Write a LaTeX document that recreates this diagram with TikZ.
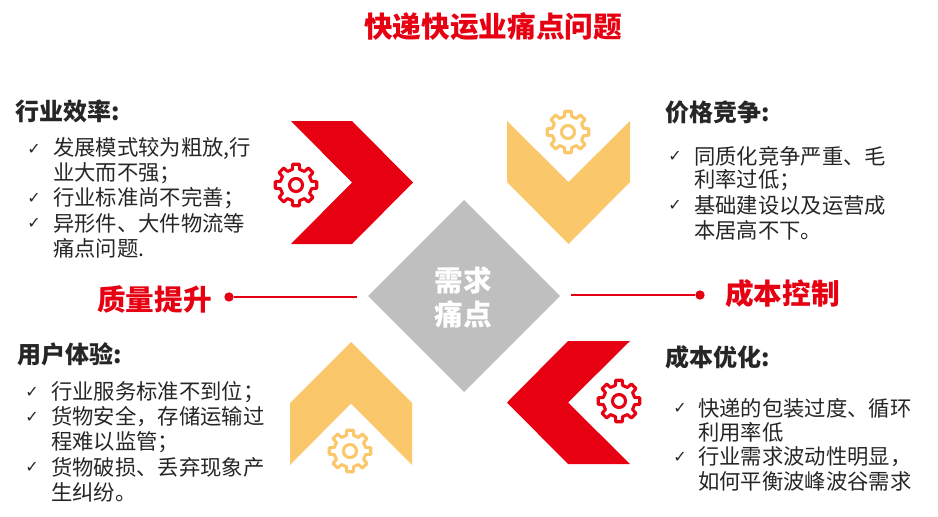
\documentclass[tikz,border=0pt]{standalone}
\usepackage{fontspec}
\setmainfont{Noto Sans CJK SC}
\newfontfamily\symfont{DejaVu Sans}
\definecolor{kred}{HTML}{E60012}
\definecolor{kyellow}{HTML}{FAC86A}
\definecolor{kgrey}{HTML}{BFBFBF}
\definecolor{ktext}{HTML}{262626}
\tikzset{
	headtext/.style = {anchor = west, inner sep = 0pt, text = ktext, font = \fontsize{18pt}{18pt}\selectfont\bfseries},
	bodytext/.style = {anchor = west, inner sep = 0pt, text = ktext, font = \fontsize{16pt}{16pt}\selectfont},
	ticktext/.style = {anchor = west, inner sep = 0pt, text = ktext, font = \fontsize{12pt}{12pt}\symfont},
	redtext/.style = {inner sep = 0pt, text = kred, font = \fontsize{21.5pt}{21.5pt}\selectfont\bfseries},
	reddot/.style = {circle, fill = kred, inner sep = 0pt, minimum size = 7pt}
}
\newcommand{\gearicon}[3]{
	\draw[#3, line width = 2.3pt, line join = round, shift = {(#1, #2)}]
		(-9:21) \foreach \a in {0, 45, ..., 315}
		{
			-- (\a - 9:21) -- (\a + 9:21) -- (\a + 13:16) -- (\a + 32:16)
		} -- cycle;
	\draw[#3, line width = 2.3pt] (#1, #2) circle (6.5);
}
\begin{document}
\begin{tikzpicture}[x = .75pt, y = -.75pt]
		\useasboundingbox (0, 0) rectangle (938, 517);
		% chevrons
		\fill[kred] (291, 121) -- (352, 121) -- (413, 182.5) -- (352, 244) -- (291, 244) -- (352, 182.5) -- cycle;
		\fill[kyellow] (507, 121) -- (568.5, 182) -- (630, 121) -- (630, 182) -- (568.5, 244) -- (507, 182) -- cycle;
		\fill[kyellow] (290, 403) -- (351, 342) -- (412, 403) -- (412, 465) -- (351, 403.5) -- (290, 465) -- cycle;
		\fill[kred] (630, 341) -- (568, 341) -- (507, 402.5) -- (568, 464) -- (630, 464) -- (568, 402.5) -- cycle;
		\fill[kgrey] (368, 296) -- (464, 200) -- (560, 296) -- (464, 392) -- cycle;
		% gears
		\gearicon{296}{185}{kred}
		\gearicon{568}{132}{kyellow}
		\gearicon{350}{451}{kyellow}
		\gearicon{619}{401}{kred}
		% titles
		\node[redtext] (title) at (493, 27) {快递快运业痛点问题};
		\node[redtext, text = white] (need) at (463, 281) {需求};
		\node[redtext, text = white] (pain) at (463, 314) {痛点};
		\node[redtext] (quality) at (154.5, 299) {质量提升};
		\node[redtext] (cost) at (782.5, 294) {成本控制};
		% connectors
		\node[reddot] (qdot) at (229, 297) {};
		\node[reddot] (cdot) at (700, 295) {};
		\coordinate (qend) at (357, 297);
		\coordinate (cend) at (571, 295);
		\draw[kred, line width = .8pt] (qdot)--(qend);
		\draw[kred, line width = .8pt] (cdot)--(cend);
		% upper left
		\node[headtext] (h1) at (15, 111) {行业效率:};
		\foreach \y/\t in {149/{发展模式较为粗放,行}, 173/业大而不强；, 198/行业标准尚不完善；, 223/异形件、大件物流等, 248/痛点问题.}
		{
			\node[bodytext] (a\y) at (53, \y) {\t};
		}
		\foreach \y in {149, 198, 223}
			\node[ticktext] (at\y) at (27, \y) {✓};
		% upper right
		\node[headtext] (h2) at (665, 112) {价格竞争:};
		\foreach \y/\t in {156/同质化竞争严重、毛, 180/利率过低；, 205/基础建设以及运营成, 230/本居高不下。}
		{
			\node[bodytext] (b\y) at (694, \y) {\t};
		}
		\foreach \y in {156, 205}
			\node[ticktext] (bt\y) at (668, \y) {✓};
		% lower left
		\node[headtext] (h3) at (17, 354) {用户体验:};
		\foreach \y/\t in {392/行业服务标准不到位；, 417/货物安全，存储运输过, 442/程难以监管；, 467/货物破损、丢弃现象产, 492/生纠纷。}
		{
			\node[bodytext] (c\y) at (51, \y) {\t};
		}
		\foreach \y in {392, 417, 467}
			\node[ticktext] (ct\y) at (25, \y) {✓};
		% lower right
		\node[headtext] (h4) at (665, 357) {成本优化:};
		\foreach \y/\t in {408/快递的包装过度、循环, 432/利用率低, 457/行业需求波动性明显，, 481/如何平衡波峰波谷需求}
		{
			\node[bodytext] (d\y) at (698, \y) {\t};
		}
		\foreach \y in {408, 457}
			\node[ticktext] (dt\y) at (673, \y) {✓};
\end{tikzpicture}
\end{document}
